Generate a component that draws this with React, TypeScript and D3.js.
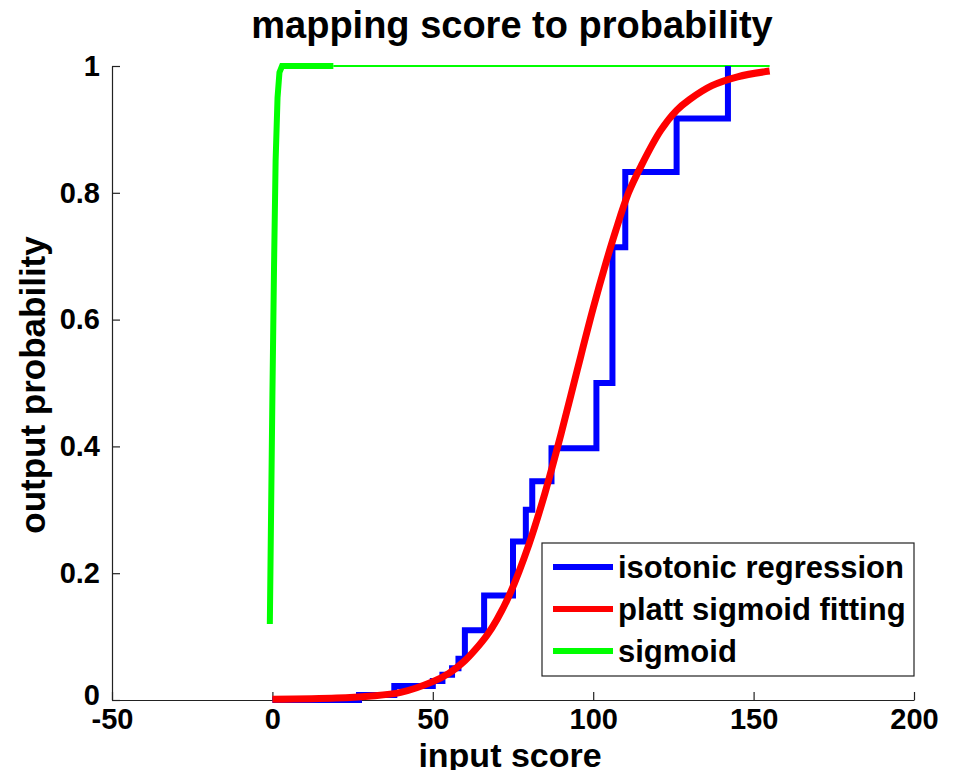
import React, { useEffect, useRef } from 'react';
import * as d3 from 'd3';

// isotonic regression (step function, post steps)
const isoScore = [0, 27, 38, 50, 53, 56, 58, 60, 66, 75, 79, 81, 87, 101, 106, 110, 126, 142];
const isoProb = [0, 0.008, 0.022, 0.03, 0.04, 0.05, 0.065, 0.11, 0.165, 0.25, 0.3, 0.345, 0.397, 0.5, 0.714, 0.833, 0.917, 1.0];

// platt sigmoid fitting
const plattScore = [0, 20, 30, 40, 50, 55, 60, 63, 67, 70, 74, 80, 85, 90, 95, 100, 104, 107, 111, 115, 121, 126, 130, 137, 145, 155];
const plattProb = [0.001, 0.003, 0.006, 0.012, 0.029, 0.042, 0.062, 0.078, 0.103, 0.127, 0.167, 0.246, 0.327, 0.42, 0.52, 0.618, 0.69, 0.74, 0.80, 0.843, 0.898, 0.93, 0.947, 0.969, 0.983, 0.992];

// raw sigmoid
const sigScore = [-0.8, -0.4, 0, 0.5, 1, 1.6, 2.2, 3, 19];
const sigProb = [0.12, 0.3, 0.48, 0.68, 0.85, 0.95, 0.99, 1, 1];
const sigTailScore = [19, 155];
const sigTailProb = [1, 1];

const xTicks = [-50, 0, 50, 100, 150, 200];
const yTicks = [0, 0.2, 0.4, 0.6, 0.8, 1];
const legendLabels = ['isotonic regression', 'platt sigmoid fitting', 'sigmoid'];
const colors = ['#0000ff', '#ff0000', '#00ff00'];

const App = () => {
  const svgRef = useRef(null);

  useEffect(() => {
    const W = 956;
    const H = 778;
    const svg = d3.select(svgRef.current).attr('width', W).attr('height', H);
    svg.selectAll('*').remove();

    const font = '"Liberation Sans", Arial, Helvetica, sans-serif';

    const x = d3.scaleLinear().domain([-50, 200]).range([112, 914]);
    const y = d3.scaleLinear().domain([0, 1]).range([700, 66]);

    // axes (MATLAB style, ticks inward, box off)
    const xAxis = svg
      .append('g')
      .attr('transform', `translate(0,${y(0)})`)
      .call(d3.axisBottom(x).tickValues(xTicks).tickSizeInner(-8).tickSizeOuter(0).tickFormat((d) => String(d)));
    xAxis.select('.domain').attr('stroke', '#222').attr('stroke-width', 1.2);
    xAxis.selectAll('line').attr('stroke', '#222').attr('stroke-width', 1.2);
    xAxis
      .selectAll('text')
      .attr('y', 29)
      .attr('dy', 0)
      .style('font-family', font)
      .style('font-weight', 'bold')
      .style('font-size', '29px')
      .style('fill', '#000');

    const yAxis = svg
      .append('g')
      .attr('transform', `translate(${x(-50)},0)`)
      .call(d3.axisLeft(y).tickValues(yTicks).tickSizeInner(-8).tickSizeOuter(0).tickPadding(12).tickFormat((d) => (d === 0 || d === 1 ? String(d) : d3.format('.1f')(d))));
    yAxis.select('.domain').attr('stroke', '#222').attr('stroke-width', 1.2);
    yAxis.selectAll('line').attr('stroke', '#222').attr('stroke-width', 1.2);
    yAxis
      .selectAll('text')
      .attr('y', (d) => (d === 0 ? -5 : 0))
      .style('font-family', font)
      .style('font-weight', 'bold')
      .style('font-size', '29px')
      .style('fill', '#000');

    const line = d3
      .line()
      .x((d) => x(d[0]))
      .y((d) => y(d[1]));

    // sigmoid (green): thin tail, then thick rise
    svg
      .append('path')
      .datum(sigTailScore.map((s, i) => [s, sigTailProb[i]]))
      .attr('d', line)
      .attr('fill', 'none')
      .attr('stroke', colors[2])
      .attr('stroke-width', 2);
    svg
      .append('path')
      .datum(sigScore.map((s, i) => [s, sigProb[i]]))
      .attr('d', line)
      .attr('fill', 'none')
      .attr('stroke', colors[2])
      .attr('stroke-width', 6);

    // isotonic regression (blue)
    svg
      .append('path')
      .datum(isoScore.map((s, i) => [s, isoProb[i]]))
      .attr('d', d3.line().x((d) => x(d[0])).y((d) => y(d[1])).curve(d3.curveStepAfter))
      .attr('fill', 'none')
      .attr('stroke', colors[0])
      .attr('stroke-width', 6);

    // platt (red)
    svg
      .append('path')
      .datum(plattScore.map((s, i) => [s, plattProb[i]]))
      .attr('d', d3.line().x((d) => x(d[0])).y((d) => y(d[1])).curve(d3.curveCatmullRom.alpha(0.5)))
      .attr('fill', 'none')
      .attr('stroke', colors[1])
      .attr('stroke-width', 7);

    // title
    svg
      .append('text')
      .attr('x', 512)
      .attr('y', 38)
      .attr('text-anchor', 'middle')
      .style('font-family', font)
      .style('font-weight', 'bold')
      .style('font-size', '38px')
      .text('mapping score to probability');

    // axis labels
    svg
      .append('text')
      .attr('x', 510)
      .attr('y', 767)
      .attr('text-anchor', 'middle')
      .style('font-family', font)
      .style('font-weight', 'bold')
      .style('font-size', '34px')
      .text('input score');

    svg
      .append('text')
      .attr('transform', 'translate(45,385) rotate(-90)')
      .attr('text-anchor', 'middle')
      .style('font-family', font)
      .style('font-weight', 'bold')
      .style('font-size', '35px')
      .text('output probability');

    // legend
    const legend = svg.append('g').attr('transform', 'translate(542,543)');
    legend
      .append('rect')
      .attr('width', 372)
      .attr('height', 133)
      .attr('fill', '#fff')
      .attr('stroke', '#222')
      .attr('stroke-width', 1.2);
    legendLabels.forEach((label, i) => {
      const ly = 24 + i * 42;
      legend
        .append('line')
        .attr('x1', 11)
        .attr('x2', 71)
        .attr('y1', ly)
        .attr('y2', ly)
        .attr('stroke', colors[i])
        .attr('stroke-width', 6);
      legend
        .append('text')
        .attr('x', 76)
        .attr('y', ly)
        .attr('dy', '0.35em')
        .style('font-family', font)
        .style('font-weight', 'bold')
        .style('font-size', '31px')
        .text(label);
    });
  }, []);

  return <svg ref={svgRef} style={{ display: 'block', margin: '-8px' }}></svg>;
};

export default App;
